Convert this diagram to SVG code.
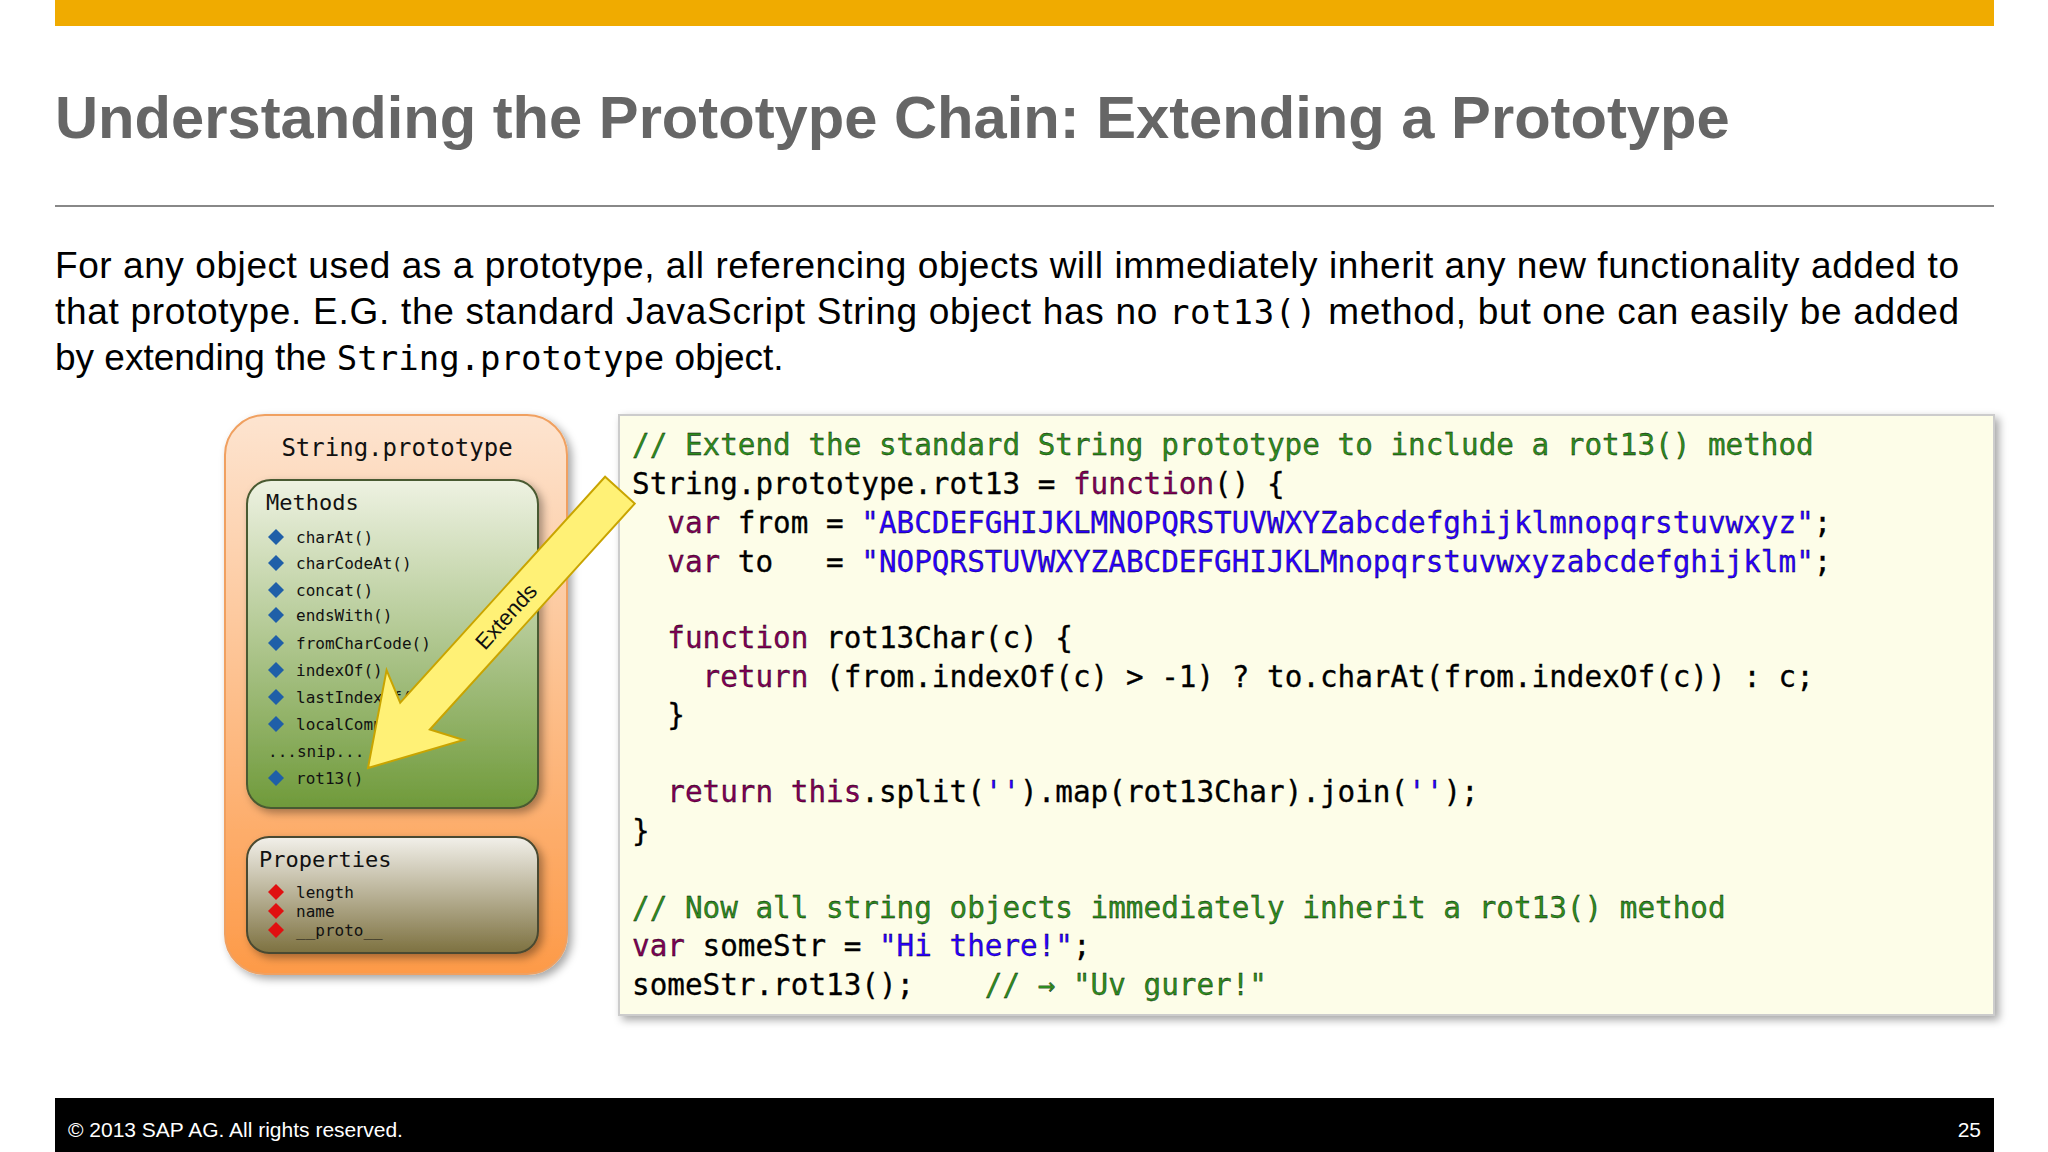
<svg xmlns="http://www.w3.org/2000/svg" width="2048" height="1152" viewBox="0 0 2048 1152">
<defs>
<linearGradient id="gOr" x1="0" y1="0" x2="0" y2="1"><stop offset="0" stop-color="#fde4d0"/><stop offset="1" stop-color="#fd9a48"/></linearGradient>
<linearGradient id="gGr" x1="0" y1="0" x2="0" y2="1"><stop offset="0" stop-color="#eef2e2"/><stop offset="1" stop-color="#6f9a3a"/></linearGradient>
<linearGradient id="gPr" x1="0" y1="0" x2="0" y2="1"><stop offset="0" stop-color="#f2f0ea"/><stop offset="1" stop-color="#7d7140"/></linearGradient>
<filter id="sh" x="-10%" y="-10%" width="130%" height="130%"><feDropShadow dx="4" dy="4" stdDeviation="4" flood-color="#000" flood-opacity="0.35"/></filter>
<path id="dm" d="M0,-8 L8,0 L0,8 L-8,0 Z"/>
</defs>
<style>
.t{font-family:"Liberation Sans",Arial,sans-serif}
.m{font-family:"DejaVu Sans Mono","Liberation Mono",monospace}
.code{font-family:"DejaVu Sans Mono","Liberation Mono",monospace;font-size:29.3px;fill:#000;white-space:pre;stroke:currentColor;stroke-width:0.3}
.c{fill:#2e8b1e}.k{fill:#7f0055}.s{fill:#2a00ff}
.it{font-family:"DejaVu Sans Mono",monospace;font-size:16px;fill:#111}
</style>
<rect width="2048" height="1152" fill="#fff"/>
<rect x="55" y="0" width="1939" height="26" fill="#f0ab00"/>
<text class="t" x="55" y="138" font-size="59.7" font-weight="bold" fill="#666">Understanding the Prototype Chain: Extending a Prototype</text>
<line x1="55" y1="206" x2="1994" y2="206" stroke="#888" stroke-width="2"/>
<g class="t" font-size="37" fill="#000">
<text x="55" y="278" textLength="1904" lengthAdjust="spacing">For any object used as a prototype, all referencing objects will immediately inherit any new functionality added to</text>
<text x="55" y="324" textLength="1904" lengthAdjust="spacing">that prototype.  E.G. the standard JavaScript String object has no <tspan class="m" font-size="34">rot13()</tspan> method, but one can easily be added</text>
<text x="55" y="370">by extending the <tspan class="m" font-size="34">String.prototype</tspan> object.</text>
</g>
<g id="prototype">
<rect x="225" y="415" width="342" height="559" rx="40" fill="url(#gOr)" stroke="#f0a060" stroke-width="2" filter="url(#sh)"/>
<text class="m" x="397" y="456" font-size="24" text-anchor="middle" fill="#111">String.prototype</text>
</g>
<g id="methods">
<rect x="247" y="480" width="291" height="328" rx="24" fill="url(#gGr)" stroke="#4a5a30" stroke-width="2" filter="url(#sh)"/>
<text class="m" x="266" y="510" font-size="22" fill="#111">Methods</text>
<g fill="#1f5fa8">
<use href="#dm" x="276" y="537"/><use href="#dm" x="276" y="563"/><use href="#dm" x="276" y="590"/><use href="#dm" x="276" y="615"/><use href="#dm" x="276" y="643"/><use href="#dm" x="276" y="670"/><use href="#dm" x="276" y="697"/><use href="#dm" x="276" y="724"/><use href="#dm" x="276" y="778"/>
</g>
<text class="it" x="296" y="543">charAt()</text>
<text class="it" x="296" y="569">charCodeAt()</text>
<text class="it" x="296" y="596">concat()</text>
<text class="it" x="296" y="621">endsWith()</text>
<text class="it" x="296" y="649">fromCharCode()</text>
<text class="it" x="296" y="676">indexOf()</text>
<text class="it" x="296" y="703">lastIndexOf()</text>
<text class="it" x="296" y="730">localCompare()</text>
<text class="it" x="268" y="757">...snip...</text>
<text class="it" x="296" y="784">rot13()</text>
</g>
<g id="properties">
<rect x="247" y="837" width="291" height="116" rx="22" fill="url(#gPr)" stroke="#4a4a30" stroke-width="2" filter="url(#sh)"/>
<text class="m" x="259" y="867" font-size="22" fill="#111">Properties</text>
<g fill="#e01010"><use href="#dm" x="276" y="892"/><use href="#dm" x="276" y="911"/><use href="#dm" x="276" y="930"/></g>
<text class="it" x="296" y="898">length</text>
<text class="it" x="296" y="917">name</text>
<text class="it" x="296" y="936">__proto__</text>
</g>
<g id="code">
<rect x="619" y="415" width="1375" height="600" fill="#fdfde8" stroke="#ccc" stroke-width="2" filter="url(#sh)"/>
<text class="code" x="632" y="455"><tspan class="c">// Extend the standard String prototype to include a rot13() method</tspan></text>
<text class="code" x="632" y="494">String.prototype.rot13 = <tspan class="k">function</tspan>() {</text>
<text class="code" x="632" y="533">  <tspan class="k">var</tspan> from = <tspan class="s">"ABCDEFGHIJKLMNOPQRSTUVWXYZabcdefghijklmnopqrstuvwxyz"</tspan>;</text>
<text class="code" x="632" y="572">  <tspan class="k">var</tspan> to   = <tspan class="s">"NOPQRSTUVWXYZABCDEFGHIJKLMnopqrstuvwxyzabcdefghijklm"</tspan>;</text>
<text class="code" x="632" y="648">  <tspan class="k">function</tspan> rot13Char(c) {</text>
<text class="code" x="632" y="687">    <tspan class="k">return</tspan> (from.indexOf(c) &gt; -1) ? to.charAt(from.indexOf(c)) : c;</text>
<text class="code" x="632" y="725">  }</text>
<text class="code" x="632" y="802">  <tspan class="k">return this</tspan>.split(<tspan class="s">''</tspan>).map(rot13Char).join(<tspan class="s">''</tspan>);</text>
<text class="code" x="632" y="841">}</text>
<text class="code" x="632" y="918"><tspan class="c">// Now all string objects immediately inherit a rot13() method</tspan></text>
<text class="code" x="632" y="956"><tspan class="k">var</tspan> someStr = <tspan class="s">"Hi there!"</tspan>;</text>
<text class="code" x="632" y="995">someStr.rot13();    <tspan class="c">// → "Uv gurer!"</tspan></text>
</g>
<g id="connectors">
<g transform="translate(368,768) rotate(-47.8)">
<polygon points="0,0 85,-52 70,-20 375,-20 375,20 70,20 85,52" fill="#fff176" stroke="#c9a400" stroke-width="2"/>
<text class="t" x="205" y="8" font-size="22" text-anchor="middle" fill="#111">Extends</text>
</g>
</g>
<rect x="55" y="1098" width="1939" height="54" fill="#000"/>
<text class="t" x="68" y="1137" font-size="21" fill="#fff">©  2013 SAP AG. All rights reserved.</text>
<text class="t" x="1981" y="1137" font-size="21" fill="#fff" text-anchor="end">25</text>
</svg>
